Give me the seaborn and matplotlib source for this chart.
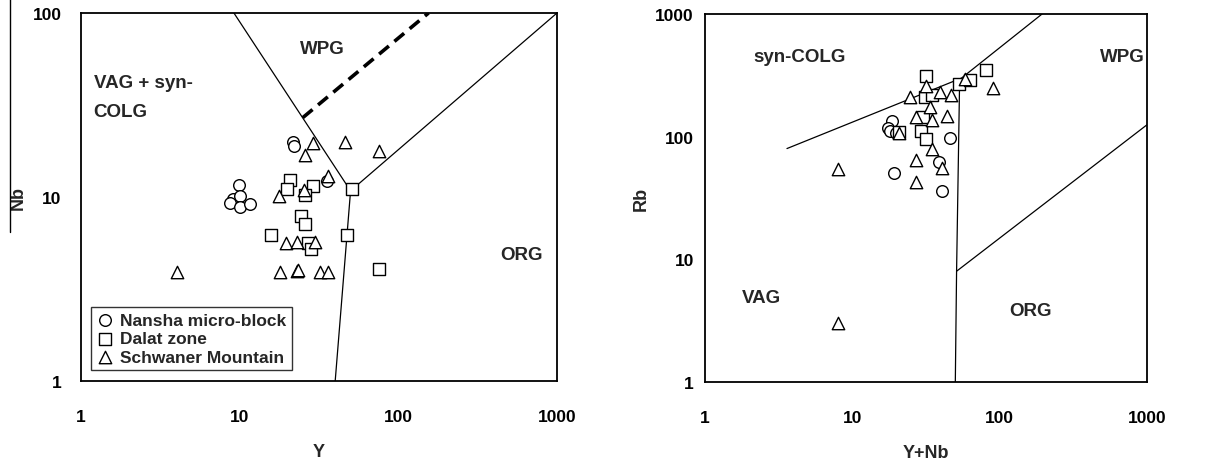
import matplotlib
matplotlib.use("Agg")
import matplotlib.pyplot as plt
import seaborn as sns
from matplotlib.lines import Line2D
from matplotlib.ticker import FixedLocator, LogLocator, NullFormatter

# Left panel: Nb vs Y
nansha_y = [21.8, 22.1, 9.9, 9.1, 8.7, 10.1, 10.0, 11.7, 35.3]
nansha_nb = [19.8, 18.9, 11.6, 9.8, 9.3, 10.1, 8.8, 9.2, 12.2]
dalat_y = [20.7, 20.0, 29.1, 25.8, 50.8, 24.3, 25.8, 15.8, 47.2, 27.1, 28.0, 75.5]
dalat_nb = [12.3, 11.0, 11.5, 10.3, 11.0, 7.9, 7.1, 6.2, 6.2, 5.6, 5.2, 4.06]
schwaner_y = [28.8, 46.1, 75.5, 25.8, 35.8, 25.5, 17.7, 19.5, 22.9, 29.8,
              17.9, 22.9, 23.2, 32.1, 35.8, 4.0]
schwaner_nb = [19.7, 19.8, 17.7, 16.9, 13.0, 10.9, 10.1, 5.6, 5.7, 5.7,
               3.93, 3.95, 4.0, 3.93, 3.93, 3.93]

# Right panel: Rb vs Y+Nb
nansha_ynb = [18.7, 17.5, 18.0, 19.7, 45.8, 38.8, 19.1, 40.9]
nansha_rb = [135, 117, 112, 108, 97, 62, 51, 36]
dalat_ynb = [31.5, 53.0, 62.6, 80.4, 31.0, 34.9, 30.1, 29.4, 31.5, 20.8]
dalat_rb = [310, 268, 291, 351, 209, 218, 144, 112, 96, 110]
schwaner_ynb = [31.7, 24.5, 39.6, 46.5, 58.6, 90.2, 33.9, 26.9, 34.9, 43.9,
                20.8, 34.9, 26.9, 40.3, 26.9, 8.0, 8.0]
schwaner_rb = [260, 209, 230, 218, 295, 247, 173, 144, 137, 148,
               107, 79, 64, 56, 43, 55, 3]

# Discrimination boundaries
left_lines = [([9.2, 50], [100, 10.8]), ([50, 1000], [10.8, 100]), ([50, 40], [10.8, 1])]
left_dashed = ([25, 155], [27, 100])
right_lines = [([3.6, 55, 194], [80, 300, 1000]), ([50, 51, 53.5], [1, 8, 295]),
               ([51, 1000], [8, 125])]

groups = ["Nansha micro-block", "Dalat zone", "Schwaner Mountain"]
markers = ["o", "s", "^"]
sizes = [70, 85, 80]

sns.set_style("white")
plt.rcParams["font.family"] = ["Liberation Sans", "DejaVu Sans"]
plt.rcParams["font.weight"] = "bold"

fig = plt.figure(figsize=(12.09, 4.64), dpi=100)
ax1 = fig.add_axes([81 / 1209, 82 / 464, 476 / 1209, 368 / 464])
ax2 = fig.add_axes([705 / 1209, 81 / 464, 442 / 1209, 368 / 464])


def draw_points(ax, xs, ys, legend):
    for (x, y), g, m, s in zip(zip(xs, ys), groups, markers, sizes):
        sns.scatterplot(x=x, y=y, ax=ax, marker=m, s=s, facecolor="white",
                        edgecolor="black", linewidth=1.0, label=g if legend else None,
                        zorder=3)


def style_axis(ax, xlim, ylim, xlabel, ylabel, ypad):
    ax.set_xscale("log")
    ax.set_yscale("log")
    ax.set_xlim(*xlim)
    ax.set_ylim(*ylim)
    for sp in ax.spines.values():
        sp.set_color("black")
        sp.set_linewidth(1.3)
    xt = [10 ** i for i in range(4) if xlim[0] <= 10 ** i <= xlim[1]]
    yt = [10 ** i for i in range(4) if ylim[0] <= 10 ** i <= ylim[1]]
    ax.xaxis.set_major_locator(FixedLocator(xt))
    ax.yaxis.set_major_locator(FixedLocator(yt))
    ax.set_xticklabels([str(int(v)) for v in xt])
    ax.set_yticklabels([str(int(v)) for v in yt])
    ax.xaxis.set_minor_locator(LogLocator(base=10, subs=range(2, 10)))
    ax.yaxis.set_minor_locator(LogLocator(base=10, subs=range(2, 10)))
    ax.xaxis.set_minor_formatter(NullFormatter())
    ax.yaxis.set_minor_formatter(NullFormatter())
    ax.tick_params(which="both", direction="in", length=4, width=1.0,
                   top=False, right=False, colors="black", labelsize=12.5)
    ax.tick_params(axis="x", pad=20)
    ax.tick_params(axis="y", pad=ypad)
    ax.set_xlabel(xlabel, fontsize=13, fontweight="bold", labelpad=14)
    ax.set_ylabel(ylabel, fontsize=13, fontweight="bold", labelpad=4)


# ---- left panel ----
for x, y in left_lines:
    ax1.plot(x, y, color="black", lw=0.9, zorder=2)
ax1.plot(*left_dashed, color="black", lw=2.6, ls=(0, (3.5, 2)), zorder=2)
draw_points(ax1, [nansha_y, dalat_y, schwaner_y], [nansha_nb, dalat_nb, schwaner_nb], True)
style_axis(ax1, (1, 1000), (1, 100), "Y", "Nb", 14)
ax1.text(1.2, 42, "VAG + syn-", fontsize=13.5, fontweight="bold", va="center")
ax1.text(1.2, 29, "COLG", fontsize=13.5, fontweight="bold", va="center")
ax1.text(33, 64, "WPG", fontsize=13.5, fontweight="bold", ha="center", va="center")
ax1.text(600, 4.9, "ORG", fontsize=13.5, fontweight="bold", ha="center", va="center")
leg = ax1.legend(loc="lower left", bbox_to_anchor=(0.022, 0.03), frameon=True,
                 fancybox=False, fontsize=12.5, handletextpad=0.35, borderpad=0.3,
                 labelspacing=0.2, handlelength=1.0, borderaxespad=0)
leg.get_frame().set_edgecolor("black")
leg.get_frame().set_linewidth(1.0)

# ---- right panel ----
for x, y in right_lines:
    ax2.plot(x, y, color="black", lw=0.9, zorder=2)
draw_points(ax2, [nansha_ynb, dalat_ynb, schwaner_ynb], [nansha_rb, dalat_rb, schwaner_rb], False)
style_axis(ax2, (1, 1000), (1, 1000), "Y+Nb", "Rb", 8)
ax2.text(4.4, 454, "syn-COLG", fontsize=13.5, fontweight="bold", ha="center", va="center")
ax2.text(680, 454, "WPG", fontsize=13.5, fontweight="bold", ha="center", va="center")
ax2.text(2.4, 4.9, "VAG", fontsize=13.5, fontweight="bold", ha="center", va="center")
ax2.text(161, 3.8, "ORG", fontsize=13.5, fontweight="bold", ha="center", va="center")

# stray rule at the far left of the original figure
fig.add_artist(Line2D([10 / 1209, 10 / 1209], [1, 1 - 233 / 464], color="black", lw=1.0))

fig.savefig("out.png", dpi=100, facecolor="white")
